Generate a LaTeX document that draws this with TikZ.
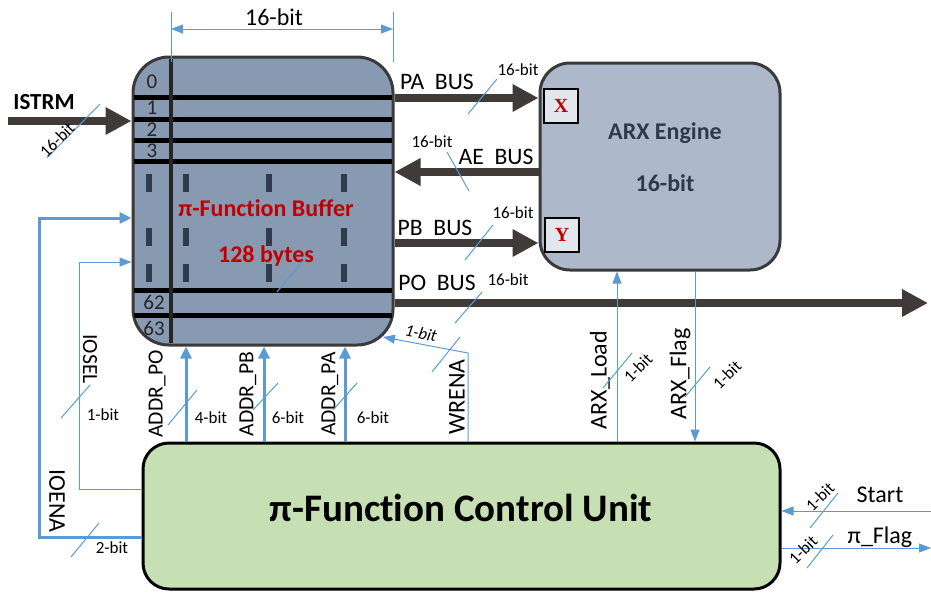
\documentclass[tikz,border=0pt]{standalone}
\usepackage{fontspec}
\setmainfont{Carlito}[Ligatures={NoCommon}]
\newfontfamily\portfont{Liberation Serif}
\usepackage{tikz}
\usetikzlibrary{positioning,arrows.meta,calc}
\definecolor{wire}{HTML}{5B9BD5}
\definecolor{busdark}{HTML}{403B38}
\definecolor{buffill}{HTML}{8899B2}
\definecolor{arxfill}{HTML}{ADB9CB}
\definecolor{cufill}{HTML}{C6E0B4}
\definecolor{rim}{HTML}{3A3A3A}
\definecolor{redtext}{HTML}{C00000}
\definecolor{engtext}{HTML}{2E3A4B}
\definecolor{barfill}{HTML}{2F3B4C}

\begin{document}
\begin{tikzpicture}[
  x=0.5pt, y=-0.5pt,
  every node/.style={inner sep=0pt, font=\fontsize{10}{12}\selectfont},
  buffer/.style={
    rectangle, rounded corners=18pt, draw=rim, line width=1.5pt,
    fill=buffill, minimum width=130pt, minimum height=144pt
  },
  engine/.style={
    rectangle, rounded corners=15pt, draw=rim, line width=1.5pt,
    fill=arxfill, minimum width=120pt, minimum height=103.5pt
  },
  ctrl/.style={
    rectangle, rounded corners=13pt, draw=black, line width=1.5pt,
    fill=cufill, minimum width=318.5pt, minimum height=73pt
  },
  port/.style={
    rectangle, draw=black, line width=0.6pt, fill=arxfill!35!white,
    minimum size=17pt, text=redtext, font=\portfont\bfseries\fontsize{10}{12}\selectfont
  },
  bus/.style={-{Triangle[length=13pt,width=13pt]}, line width=4pt, draw=busdark},
  sig/.style={-{Triangle[length=6pt,width=4.5pt]}, line width=0.5pt, draw=wire},
  sigthick/.style={-{Triangle[length=6pt,width=5.5pt]}, line width=1.5pt, draw=wire},
  dimline/.style={{Triangle[length=6pt,width=4.5pt]}-{Triangle[length=6pt,width=4.5pt]}, line width=0.5pt, draw=wire},
  slash/.style={line width=0.5pt, draw=wire},
  rowline/.style={line width=2.5pt, draw=black},
  lbl/.style={font=\fontsize{8.5}{10}\selectfont},
  busname/.style={font=\fontsize{11.8}{13}\selectfont},
  signame/.style={font=\fontsize{12}{14}\selectfont},
  addrname/.style={font=\fontsize{10.8}{12}\selectfont},
  rownum/.style={font=\fontsize{10.5}{12}\selectfont, text=black!85},
  bufname/.style={font=\bfseries\fontsize{12}{14}\selectfont, text=redtext},
  engname/.style={font=\bfseries\fontsize{12}{14}\selectfont, text=engtext},
]
\useasboundingbox (0,0) rectangle (931,595);

% Blocks
\node[buffer] (buf) at (263,201) {};
\node[engine] (arx) at (660,166.5) {};
\node[ctrl]   (cu)  at (461.5,516) {};

% Buffer rows and columns
\foreach \y in {97,119,140,161,290,315}
  \draw[rowline] (134,\y) -- (392,\y);
\draw[line width=2pt, draw=black!85] (171,59) -- (171,343);
\foreach \x in {149,186,269,344}
  \foreach \y in {183,237,273}
    \fill[barfill] (\x-3,\y-9) rectangle (\x+3,\y+9);
\node[rownum] (r0)  at (152,82)  {0};
\node[rownum] (r1)  at (152,108) {1};
\node[rownum] (r2)  at (152,130) {2};
\node[rownum] (r3)  at (152,151) {3};
\node[rownum] (r62) at (154,302) {62};
\node[rownum] (r63) at (154,328) {63};
\node[bufname] (bname) at (266,208) {π-Function Buffer};
\node[bufname] (bsize) at (266,256) {128 bytes};
\draw[slash] (277,292) -- (302,262);

% Width of a row
\coordinate (dimL) at (171,29);
\coordinate (dimR) at (393,29);
\draw[slash] (171,12) -- (171,62);
\draw[slash] (393,12) -- (393,62);
\draw[dimline] (dimL) -- (dimR);
\node[font=\fontsize{12}{14}\selectfont] (dimlbl) at (274,17) {16-bit};

% Engine
\node[port] (px) at (561,106) {X};
\node[port] (py) at (562,235) {Y};
\node[engname] (ename) at (665,133) {ARX Engine};
\node[engname] (ewidth) at (665,183) {16-bit};
\node[font=\bfseries\fontsize{19.5}{22}\selectfont] (cuname) at (461,508) {π-Function Control Unit};

% Input stream
\coordinate (istrm) at (8,121);
\draw[bus] (istrm) -- (buf.west |- istrm);
\node[font=\bfseries\fontsize{11.5}{13}\selectfont] (istrmlbl) at (44,102) {ISTRM};
\draw[slash] (47,158) -- (100,104);
\node[lbl, rotate=45] (istrmw) at (57,140) {16-bit};

% Buses between buffer and engine
\coordinate (paY) at (0,98);
\coordinate (aeY) at (0,172);
\coordinate (pbY) at (0,243);
\coordinate (poEnd) at (928,303);
\draw[bus] (buf.east |- paY) -- (arx.west |- paY);
\draw[bus] (arx.west |- aeY) -- (buf.east |- aeY);
\draw[bus] (buf.east |- pbY) -- (arx.west |- pbY);
\draw[bus] (buf.east |- poEnd) -- (poEnd);
\node[busname] (paname) at (437,82)  {PA\ \ BUS};
\node[busname] (aename) at (496,157) {AE\ \ BUS};
\node[busname] (pbname) at (435,228) {PB\ \ BUS};
\node[busname] (poname) at (437,283) {PO\ \ BUS};
\node[lbl] (paw) at (518,70)  {16-bit};
\node[lbl] (aew) at (432,142) {16-bit};
\node[lbl] (pbw) at (513,213) {16-bit};
\node[lbl] (pow) at (508,280) {16-bit};
\draw[slash] (468,114) -- (497,79);
\draw[slash] (447,152) -- (469,191);
\draw[slash] (465,260) -- (493,225);
\draw[slash] (455,323) -- (482,292);

% Address lines
\coordinate (xpo) at (186,0);
\coordinate (xpb) at (264,0);
\coordinate (xpa) at (345,0);
\draw[sigthick] (cu.north -| xpo) -- (buf.south -| xpo);
\draw[sigthick] (cu.north -| xpb) -- (buf.south -| xpb);
\draw[sigthick] (cu.north -| xpa) -- (buf.south -| xpa);
\node[addrname, rotate=90] (apo) at (157,394) {ADDR\_PO};
\node[addrname, rotate=90] (apb) at (248,394) {ADDR\_PB};
\node[addrname, rotate=90] (apa) at (330,394) {ADDR\_PA};
\draw[slash] (168,425) -- (197,390);
\draw[slash] (253,410) -- (278,383);
\draw[slash] (333,410) -- (357,383);
\node[lbl] (apow) at (211,418) {4-bit};
\node[lbl] (apbw) at (288,418) {6-bit};
\node[lbl] (apaw) at (373,418) {6-bit};

% Write enable
\coordinate (wrbend) at (468,353);
\coordinate (wrtip) at (383,337);
\draw[sig] (cu.north -| wrbend) -- (wrbend) -- (wrtip);
\node[signame, rotate=90] (wrena) at (457,397) {WRENA};
\draw[slash] (432,372) -- (460,337);
\node[lbl, font=\itshape\fontsize{8.5}{10}\selectfont, rotate=-12] (wrw) at (421,333) {1-bit};

% Engine handshake
\coordinate (xload) at (617,0);
\coordinate (xflag) at (695,0);
\draw[sig] (cu.north -| xload) -- (arx.south -| xload);
\draw[sig] (arx.south -| xflag) -- (cu.north -| xflag);
\node[signame, rotate=90] (ldname) at (600,380) {ARX\_Load};
\node[signame, rotate=90] (flname) at (680,374) {ARX\_Flag};
\draw[slash] (603,388) -- (632,353);
\draw[slash] (685,397) -- (710,367);
\node[lbl, rotate=45] (ldw) at (638,368) {1-bit};
\node[lbl, rotate=45] (flw) at (727,375) {1-bit};

% I/O select and enable
\coordinate (selY) at (0,489);
\coordinate (iosel) at (79,262);
\coordinate (enaY) at (0,537);
\coordinate (ioena) at (39,218);
\draw[sig] (cu.west |- selY) -| (iosel) -- (buf.west |- iosel);
\draw[sigthick] (cu.west |- enaY) -| (ioena) -- (buf.west |- ioena);
\node[addrname, rotate=-90] (selname) at (90,359) {IOSEL};
\node[signame, rotate=-90] (enaname) at (57,501) {IOENA};
\draw[slash] (61,418) -- (90,385);
\draw[slash] (71,557) -- (99,523);
\node[lbl] (selw) at (103,415) {1-bit};
\node[lbl] (enaw) at (112,548) {2-bit};

% External control
\coordinate (startIn) at (931,511);
\coordinate (flagOut) at (931,548);
\draw[sig] (startIn) -- (cu.east |- startIn);
\draw[sig] (cu.east |- flagOut) -- (flagOut);
\node[signame] (stname) at (880,495) {Start};
\node[signame] (pfname) at (880,537) {π\_Flag};
\draw[slash] (810,528) -- (838,493);
\draw[slash] (807,568) -- (833,535);
\node[lbl, rotate=45] (stw) at (820,497) {1-bit};
\node[lbl, rotate=45] (pfw) at (803,550) {1-bit};
\end{tikzpicture}
\end{document}
